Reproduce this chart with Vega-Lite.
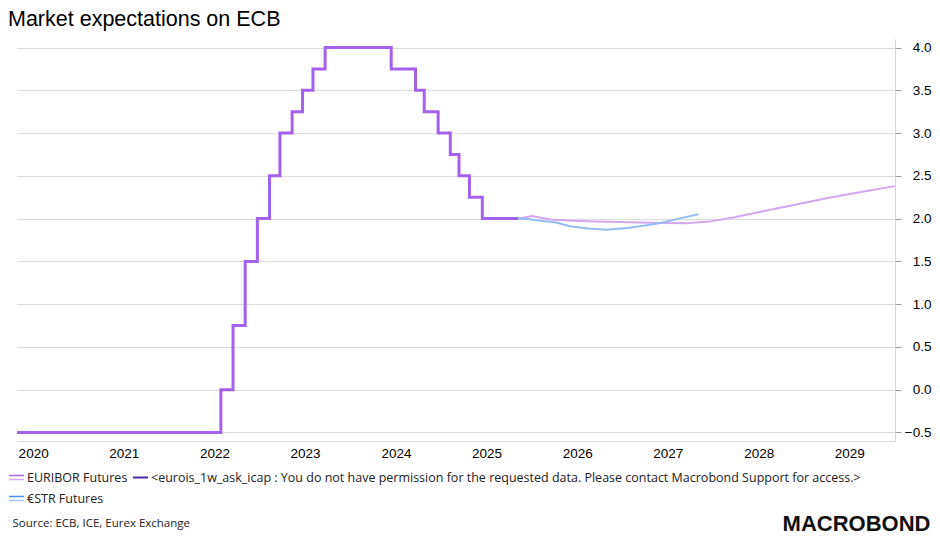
{
  "$schema": "https://vega.github.io/schema/vega-lite/v6.json",
  "width": 878,
  "height": 402,
  "autosize": {"type": "none"},
  "padding": {"left": 17, "top": 39, "right": 45, "bottom": 102},
  "background": "white",
  "config": {"view": {"stroke": null}},
  "title": {
    "text": "Market expectations on ECB",
    "anchor": "start",
    "frame": "group",
    "dx": -9,
    "offset": 9,
    "font": "Liberation Sans",
    "fontSize": 21.5,
    "fontWeight": "normal",
    "color": "#000000"
  },
  "datasets": {
    "policy": [
      {"date": "2020-04-27", "rate": -0.5},
      {"date": "2022-07-27", "rate": 0.0},
      {"date": "2022-09-14", "rate": 0.75},
      {"date": "2022-11-02", "rate": 1.5},
      {"date": "2022-12-21", "rate": 2.0},
      {"date": "2023-02-08", "rate": 2.5},
      {"date": "2023-03-22", "rate": 3.0},
      {"date": "2023-05-10", "rate": 3.25},
      {"date": "2023-06-21", "rate": 3.5},
      {"date": "2023-08-02", "rate": 3.75},
      {"date": "2023-09-20", "rate": 4.0},
      {"date": "2024-06-12", "rate": 3.75},
      {"date": "2024-09-18", "rate": 3.5},
      {"date": "2024-10-23", "rate": 3.25},
      {"date": "2024-12-18", "rate": 3.0},
      {"date": "2025-02-05", "rate": 2.75},
      {"date": "2025-03-12", "rate": 2.5},
      {"date": "2025-04-23", "rate": 2.25},
      {"date": "2025-06-14", "rate": 2.0},
      {"date": "2025-11-05", "rate": 2.0}
    ],
    "futures": [
      {"series": "EURIBOR Futures", "date": "2025-11-05", "rate": 2.0},
      {"series": "EURIBOR Futures", "date": "2025-12-31", "rate": 2.03},
      {"series": "EURIBOR Futures", "date": "2026-03-15", "rate": 1.99},
      {"series": "EURIBOR Futures", "date": "2026-06-15", "rate": 1.975},
      {"series": "EURIBOR Futures", "date": "2026-09-15", "rate": 1.965},
      {"series": "EURIBOR Futures", "date": "2026-12-15", "rate": 1.96},
      {"series": "EURIBOR Futures", "date": "2027-03-15", "rate": 1.955},
      {"series": "EURIBOR Futures", "date": "2027-06-15", "rate": 1.95},
      {"series": "EURIBOR Futures", "date": "2027-09-15", "rate": 1.945},
      {"series": "EURIBOR Futures", "date": "2027-12-15", "rate": 1.965},
      {"series": "EURIBOR Futures", "date": "2028-03-15", "rate": 2.01},
      {"series": "EURIBOR Futures", "date": "2028-06-15", "rate": 2.065},
      {"series": "EURIBOR Futures", "date": "2028-09-15", "rate": 2.12},
      {"series": "EURIBOR Futures", "date": "2028-12-15", "rate": 2.175},
      {"series": "EURIBOR Futures", "date": "2029-03-15", "rate": 2.23},
      {"series": "EURIBOR Futures", "date": "2029-06-15", "rate": 2.28},
      {"series": "EURIBOR Futures", "date": "2029-09-15", "rate": 2.325},
      {"series": "EURIBOR Futures", "date": "2029-12-31", "rate": 2.38},
      {"series": "€STR Futures", "date": "2025-11-05", "rate": 2.0},
      {"series": "€STR Futures", "date": "2025-12-15", "rate": 1.995},
      {"series": "€STR Futures", "date": "2026-02-01", "rate": 1.975},
      {"series": "€STR Futures", "date": "2026-04-08", "rate": 1.955},
      {"series": "€STR Futures", "date": "2026-06-01", "rate": 1.91},
      {"series": "€STR Futures", "date": "2026-08-15", "rate": 1.885},
      {"series": "€STR Futures", "date": "2026-10-26", "rate": 1.87},
      {"series": "€STR Futures", "date": "2027-01-20", "rate": 1.89},
      {"series": "€STR Futures", "date": "2027-04-01", "rate": 1.92},
      {"series": "€STR Futures", "date": "2027-06-01", "rate": 1.95},
      {"series": "€STR Futures", "date": "2027-08-15", "rate": 2.0},
      {"series": "€STR Futures", "date": "2027-11-01", "rate": 2.05}
    ]
  },
  "layer": [
    {
      "data": {"name": "policy"},
      "mark": {"type": "line", "interpolate": "step-after", "color": "#a461ea", "strokeWidth": 3},
      "encoding": {
        "x": {
          "field": "date",
          "type": "temporal",
          "scale": {"domain": ["2020-04-27", "2030-01-01"], "nice": false},
          "axis": {
            "values": [
              {"year": 2020, "month": 7, "date": 1},
              {"year": 2021, "month": 7, "date": 1},
              {"year": 2022, "month": 7, "date": 1},
              {"year": 2023, "month": 7, "date": 1},
              {"year": 2024, "month": 7, "date": 1},
              {"year": 2025, "month": 7, "date": 1},
              {"year": 2026, "month": 7, "date": 1},
              {"year": 2027, "month": 7, "date": 1},
              {"year": 2028, "month": 7, "date": 1},
              {"year": 2029, "month": 7, "date": 1}
            ],
            "format": "%Y",
            "grid": false,
            "ticks": false,
            "tickSize": 0,
            "labelPadding": 5,
            "labelFlush": false,
            "labelOverlap": false,
            "labelFont": "Liberation Sans",
            "labelFontSize": 13.5,
            "labelColor": "#000000",
            "domainColor": "#d9d9d9",
            "domainWidth": 1,
            "title": "Source: ECB, ICE, Eurex Exchange",
            "titleFont": "Open Sans",
            "titleFontSize": 11.5,
            "titleFontWeight": "normal",
            "titleColor": "#222222",
            "titleAlign": "left",
            "titleAnchor": "start",
            "titleBaseline": "alphabetic",
            "titleX": -5,
            "titleY": 85
          }
        },
        "y": {
          "field": "rate",
          "type": "quantitative",
          "scale": {"domain": [-0.6, 4.1], "nice": false, "zero": false},
          "axis": {
            "orient": "right",
            "values": [-0.5, 0, 0.5, 1, 1.5, 2, 2.5, 3, 3.5, 4],
            "format": ".1f",
            "grid": true,
            "gridColor": "#dcdcdc",
            "gridWidth": 1,
            "domainColor": "#d4d4d4",
            "tickColor": "#9a9a9a",
            "tickSize": 6,
            "labelAlign": "right",
            "labelPadding": 30,
            "labelFont": "Liberation Sans",
            "labelFontSize": 13.5,
            "labelColor": "#000000",
            "title": "MACROBOND",
            "titleFont": "Liberation Sans",
            "titleFontSize": 22,
            "titleFontWeight": "bold",
            "titleColor": "#111111",
            "titleAngle": 0,
            "titleAlign": "right",
            "titleBaseline": "alphabetic",
            "titleX": 35,
            "titleY": 491
          }
        }
      }
    },
    {
      "data": {"name": "futures"},
      "mark": {"type": "line", "strokeWidth": 2},
      "encoding": {
        "x": {"field": "date", "type": "temporal"},
        "y": {"field": "rate", "type": "quantitative"},
        "detail": {"field": "series", "type": "nominal"},
        "color": {
          "field": "series",
          "type": "nominal",
          "scale": {
            "domain": ["EURIBOR Futures", "<eurois_1w_ask_icap : You do not have permission for the requested data. Please contact Macrobond Support for access.>", "€STR Futures"],
            "range": ["#d5a6f0", "#4b1fa5", "#94bdf5"]
          },
          "legend": {
            "title": null,
            "orient": "none",
            "legendX": -8,
            "legendY": 431,
            "direction": "horizontal",
            "columns": 2,
            "padding": 0,
            "columnPadding": 5,
            "rowPadding": 7,
            "labelFont": "Open Sans",
            "labelFontSize": 12.5,
            "labelColor": "#222222",
            "labelLimit": 1000,
            "labelOffset": 3,
            "symbolSize": 225,
            "symbolType": "M-1,-0.38H1V-0.154H-1Z M-1,0.154H1V0.38H-1Z",
            "symbolStrokeWidth": 0,
            "encode": {
              "symbols": {
                "update": {
                  "shape": [
                    {"test": "datum.value === 'EURIBOR Futures' || datum.value === '€STR Futures'", "value": "M-1,-0.38H1V-0.154H-1Z M-1,0.154H1V0.38H-1Z"},
                    {"value": "M-1,-0.13H1V0.13H-1Z"}
                  ],
                  "fill": [
                    {"test": "datum.value === 'EURIBOR Futures'", "value": {"gradient": "linear", "x1": 0, "y1": 0, "x2": 0, "y2": 1, "stops": [{"offset": 0, "color": "#a76ae8"}, {"offset": 0.5, "color": "#a76ae8"}, {"offset": 0.5, "color": "#d6a8f0"}, {"offset": 1, "color": "#d6a8f0"}]}},
                    {"test": "datum.value === '€STR Futures'", "value": {"gradient": "linear", "x1": 0, "y1": 0, "x2": 0, "y2": 1, "stops": [{"offset": 0, "color": "#4f8ff0"}, {"offset": 0.5, "color": "#4f8ff0"}, {"offset": 0.5, "color": "#9fc3f6"}, {"offset": 1, "color": "#9fc3f6"}]}},
                    {"value": "#4b1fa5"}
                  ],
                  "stroke": {"value": "transparent"},
                  "strokeWidth": {"value": 0},
                  "opacity": {"value": 1}
                }
              }
            }
          }
        }
      }
    }
  ]
}
